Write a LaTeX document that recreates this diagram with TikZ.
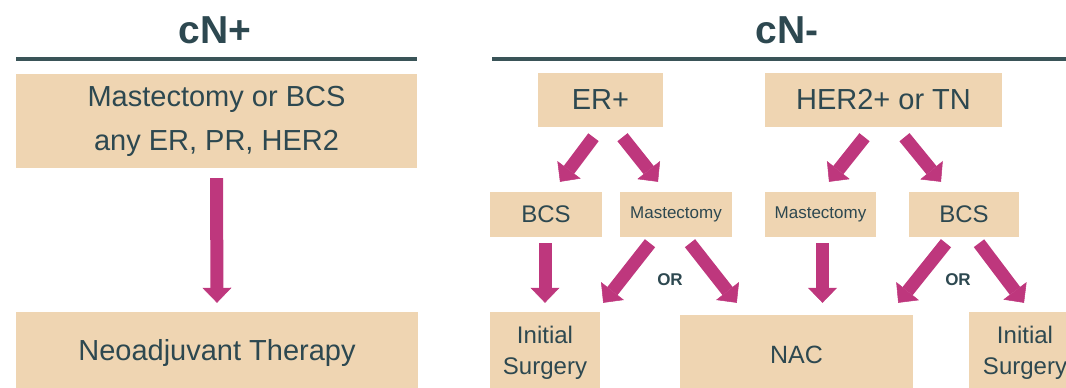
\documentclass[tikz,border=0pt]{standalone}
\usepackage{fontspec}
\setmainfont{Liberation Sans}
\usetikzlibrary{
	arrows.meta,
	calc,
	positioning
}
\definecolor{BoxTan}{RGB}{239,213,178}
\definecolor{ArrowPink}{RGB}{190,55,125}
\definecolor{SlateText}{RGB}{45,72,80}
\definecolor{SlateRule}{RGB}{58,84,88}

\begin{document}
\begin{tikzpicture}[x=1pt, y=-1pt,
		box/.style={fill=BoxTan, inner sep=0pt, align=center, text=SlateText},
		bigarrow/.style={ArrowPink, line width=13pt, -{Triangle[width=29pt, length=15pt, line width=0.5pt]}},
		headtext/.style={text=SlateText, font=\bfseries\fontsize{39}{39}\selectfont},
		hrule/.style={SlateRule, line width=3.5pt}]
		\useasboundingbox (0,0) rectangle (1066,388);
		
		% 左侧 cN+
		\node[headtext] (cnp) at (215,30) {cN+};
		\draw[hrule] (16,59) -- (417,59);
		\node[box, minimum width=401pt, minimum height=94pt, font=\fontsize{29}{44}\selectfont] (mastor) at (216.5,121) {Mastectomy or BCS\\any ER, PR, HER2};
		\node[box, minimum width=402pt, minimum height=82pt, font=\fontsize{29}{34}\selectfont] (neo) at (217,353) {Neoadjuvant Therapy};
		\draw[bigarrow] ($(mastor.south)+(0,10)$) -- ($(neo.north)+(0,-9)$);
		
		% 右侧 cN-
		\node[headtext] (cnm) at (787,30) {cN-};
		\draw[hrule] (492,59) -- (1070,59);
		
		% 第一行
		\node[box, minimum width=125pt, minimum height=54pt, font=\fontsize{29}{34}\selectfont] (er) at (600.5,100) {ER+};
		\node[box, minimum width=237pt, minimum height=54pt, font=\fontsize{29}{34}\selectfont] (her) at (883.5,100) {HER2+ or TN};
		
		% 第二行
		\node[box, minimum width=112pt, minimum height=45pt, font=\fontsize{24}{28}\selectfont] (bcsa) at (546,214.5) {BCS};
		\node[box, minimum width=112pt, minimum height=45pt, font=\fontsize{17}{20}\selectfont] (masta) at (676,214.5) {Mastectomy};
		\node[box, minimum width=111pt, minimum height=45pt, font=\fontsize{17}{20}\selectfont] (mastb) at (820.5,214.5) {Mastectomy};
		\node[box, minimum width=110pt, minimum height=45pt, font=\fontsize{24}{28}\selectfont] (bcsb) at (964,214.5) {BCS};
		
		% 第三行
		\node[box, minimum width=110pt, minimum height=82pt, font=\fontsize{24}{31}\selectfont] (inia) at (545,353) {Initial\\Surgery};
		\node[box, minimum width=233pt, minimum height=79pt, font=\fontsize{25}{30}\selectfont] (nac) at (796.5,354.5) {NAC};
		\node[box, minimum width=112pt, minimum height=82pt, font=\fontsize{24}{31}\selectfont] (inib) at (1025,353) {Initial\\Surgery};
		
		% 箭头
		\draw[bigarrow] ($(er.south)+(-7,10)$) -- ($(bcsa.north)+(14,-10)$);
		\draw[bigarrow] ($(er.south)+(22,10)$) -- ($(masta.north)+(-18,-10)$);
		\draw[bigarrow] ($(her.south)+(-19,10)$) -- ($(mastb.north)+(8.5,-10)$);
		\draw[bigarrow] ($(her.south)+(21,10)$) -- ($(bcsb.north)+(-23,-10)$);
		
		\draw[bigarrow] ($(bcsa.south)+(-1,6)$) -- ($(inia.north)+(0,-9)$);
		\draw[bigarrow] ($(masta.south)+(-26,6)$) -- ($(inia.north east)+(3,-9)$);
		\draw[bigarrow] ($(masta.south)+(14,6)$) -- ($(nac.north west)+(57,-12)$);
		\draw[bigarrow] ($(mastb.south)+(2,6)$) -- ($(mastb.south |- nac.north)+(2,-12)$);
		\draw[bigarrow] ($(bcsb.south)+(-18,6)$) -- ($(nac.north east)+(-15,-12)$);
		\draw[bigarrow] ($(bcsb.south)+(15,6)$) -- ($(inib.north)+(-1,-9)$);
		
		% OR
		\node[text=SlateText, font=\bfseries\fontsize{17}{20}\selectfont] (ora) at (670,280) {OR};
		\node[text=SlateText, font=\bfseries\fontsize{17}{20}\selectfont] (orb) at (958,280) {OR};
	\end{tikzpicture}
\end{document}
